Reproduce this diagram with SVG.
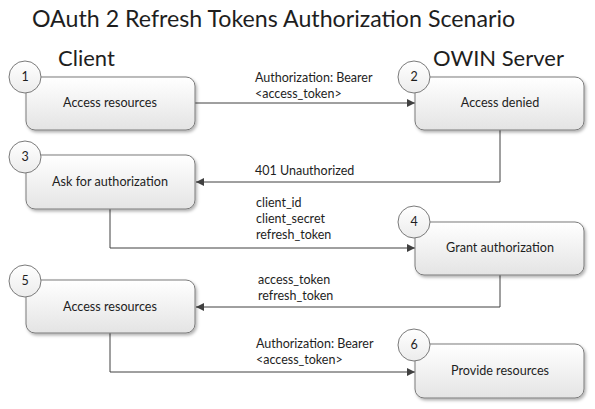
<svg xmlns="http://www.w3.org/2000/svg" width="595" height="409" viewBox="0 0 595 409">
<defs>
<linearGradient id="gBox" x1="0" y1="0" x2="0" y2="1">
<stop offset="0" stop-color="#ffffff"/>
<stop offset="1" stop-color="#e4e4e4"/>
</linearGradient>
<linearGradient id="gCirc" x1="0" y1="0" x2="0" y2="1">
<stop offset="0" stop-color="#ffffff"/>
<stop offset="1" stop-color="#ececec"/>
</linearGradient>
<filter id="sh" x="-10%" y="-10%" width="125%" height="135%">
<feDropShadow dx="1.5" dy="2" stdDeviation="1.5" flood-color="#000" flood-opacity="0.3"/>
</filter>
<marker id="arr" viewBox="0 0 10 10" refX="10" refY="5" markerWidth="9" markerHeight="8" markerUnits="userSpaceOnUse" orient="auto">
<path d="M0,0 L10,5 L0,10 Z" fill="#404040"/>
</marker>
</defs>
<style>
text{font-family:Lato,"Open Sans","Liberation Sans",sans-serif;fill:#1e1e1e}
.box{fill:url(#gBox);stroke:#7a7a7a;stroke-width:1;filter:url(#sh)}
.num{fill:url(#gCirc);stroke:#7a7a7a;stroke-width:1}
.bt{font-size:12.6px;text-anchor:middle}
.nt{font-size:12.5px;text-anchor:middle}
.lb{font-size:12.5px}
.hd{font-size:22px}
.ti{font-size:23.2px}
.con{fill:none;stroke:#404040;stroke-width:1;marker-end:url(#arr)}
</style>
<rect width="595" height="409" fill="#ffffff"/>
<text class="ti" x="32" y="27">OAuth 2 Refresh Tokens Authorization Scenario</text>
<text class="hd" x="58" y="66">Client</text>
<text class="hd" x="433" y="66">OWIN Server</text>

<g id="connectors">
<path class="con" d="M195,103 H415"/>
<path class="con" d="M500,130 V182 H196"/>
<path class="con" d="M110,209 V248 H415"/>
<path class="con" d="M500,275 V307 H196"/>
<path class="con" d="M110,333 V372 H415"/>
<text class="lb" x="255" y="82">Authorization: Bearer</text>
<text class="lb" x="255" y="98">&lt;access_token&gt;</text>
<text class="lb" x="255" y="175">401 Unauthorized</text>
<text class="lb" x="256" y="207">client_id</text>
<text class="lb" x="256" y="223">client_secret</text>
<text class="lb" x="256" y="239">refresh_token</text>
<text class="lb" x="258" y="284">access_token</text>
<text class="lb" x="258" y="300">refresh_token</text>
<text class="lb" x="256" y="348">Authorization: Bearer</text>
<text class="lb" x="256" y="364">&lt;access_token&gt;</text>
</g>

<g id="node1">
<rect class="box" x="26" y="77" width="169" height="53" rx="9"/>
<text class="bt" x="110" y="107">Access resources</text>
<circle class="num" cx="25" cy="77" r="16"/>
<text class="nt" x="25" y="81">1</text>
</g>
<g id="node2">
<rect class="box" x="415" y="77" width="169" height="53" rx="9"/>
<text class="bt" x="500" y="107">Access denied</text>
<circle class="num" cx="414" cy="77" r="16"/>
<text class="nt" x="414" y="81">2</text>
</g>
<g id="node3">
<rect class="box" x="26" y="155" width="169" height="54" rx="9"/>
<text class="bt" x="110" y="186">Ask for authorization</text>
<circle class="num" cx="25" cy="157" r="16"/>
<text class="nt" x="25" y="161">3</text>
</g>
<g id="node4">
<rect class="box" x="415" y="222" width="169" height="53" rx="9"/>
<text class="bt" x="500" y="252">Grant authorization</text>
<circle class="num" cx="414" cy="222" r="16"/>
<text class="nt" x="414" y="226">4</text>
</g>
<g id="node5">
<rect class="box" x="26" y="280" width="169" height="53" rx="9"/>
<text class="bt" x="110" y="311">Access resources</text>
<circle class="num" cx="25" cy="281" r="16"/>
<text class="nt" x="25" y="285">5</text>
</g>
<g id="node6">
<rect class="box" x="415" y="344" width="169" height="54" rx="9"/>
<text class="bt" x="500" y="375">Provide resources</text>
<circle class="num" cx="414" cy="345" r="16"/>
<text class="nt" x="414" y="349">6</text>
</g>
</svg>
